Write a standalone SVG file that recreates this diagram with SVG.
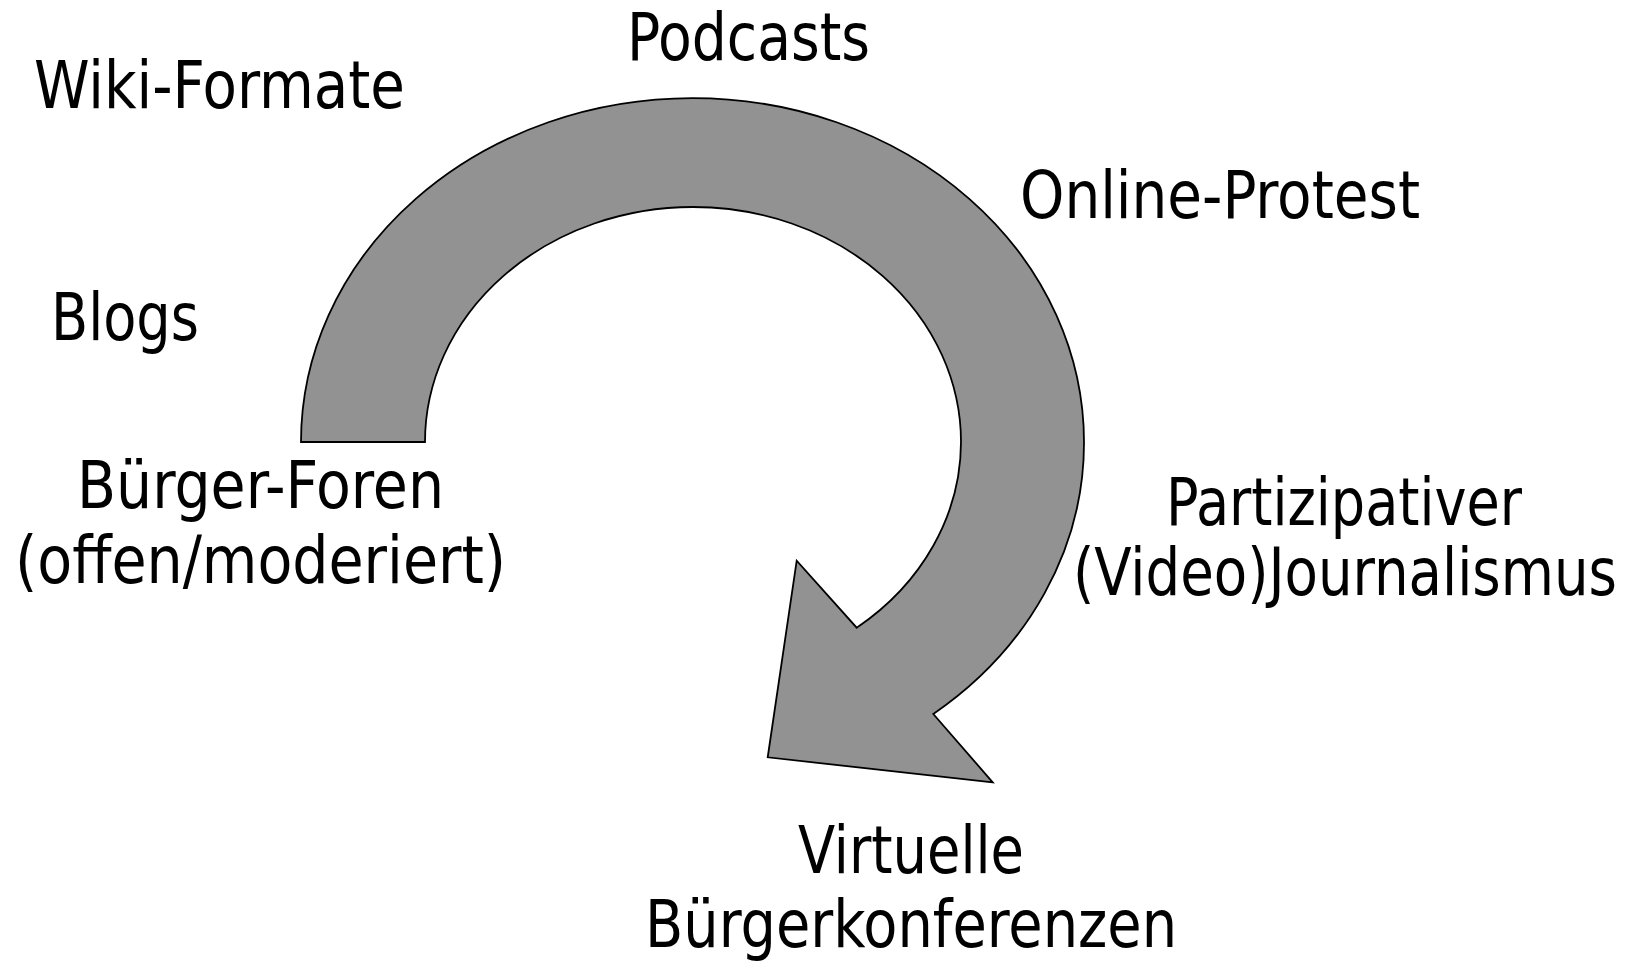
<svg xmlns="http://www.w3.org/2000/svg" width="1638" height="961" viewBox="0 0 1638 961">
<style>
text{font-family:"DejaVu Sans","Liberation Sans",sans-serif;font-stretch:condensed;font-size:65px;fill:#000}
.arrow{fill:#929292;stroke:#000;stroke-width:1.8;stroke-linejoin:miter}
</style>
<rect width="1638" height="961" fill="#fff"/>
<g id="connectors">
<path id="cycle-arrow" class="arrow" d="M301,442 A391.5,344 0 0 1 1084,442 A391.5,344 0 0 1 933.3,714 L992.7,782.3 L767.7,757.3 L796.7,560.7 L856.7,627.7 A268,235 0 0 0 961,442 A268,235 0 0 0 425,442 Z"/>
</g>
<g id="node-wiki"><text x="34" y="108" textLength="371" lengthAdjust="spacingAndGlyphs">Wiki-Formate</text></g>
<g id="node-podcasts"><text x="627" y="60" textLength="243" lengthAdjust="spacingAndGlyphs">Podcasts</text></g>
<g id="node-online-protest"><text x="1020" y="218" textLength="400" lengthAdjust="spacingAndGlyphs">Online-Protest</text></g>
<g id="node-blogs"><text x="51" y="340" textLength="148" lengthAdjust="spacingAndGlyphs">Blogs</text></g>
<g id="node-buerger-foren">
<text x="77" y="508" textLength="367" lengthAdjust="spacingAndGlyphs">Bürger-Foren</text>
<text x="15" y="583" textLength="491" lengthAdjust="spacingAndGlyphs">(offen/moderiert)</text>
</g>
<g id="node-journalismus">
<text x="1166" y="525" textLength="356" lengthAdjust="spacingAndGlyphs">Partizipativer</text>
<text x="1073" y="595" textLength="544" lengthAdjust="spacingAndGlyphs">(Video)Journalismus</text>
</g>
<g id="node-buergerkonferenzen">
<text x="798" y="873" textLength="226" lengthAdjust="spacingAndGlyphs">Virtuelle</text>
<text x="645" y="947" textLength="532" lengthAdjust="spacingAndGlyphs">Bürgerkonferenzen</text>
</g>
</svg>
